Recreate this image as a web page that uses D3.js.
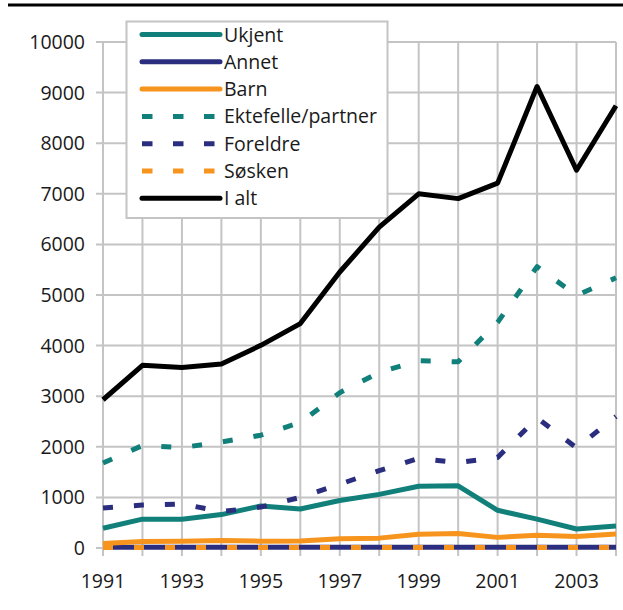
<!DOCTYPE html>
<html>
<head>
<meta charset="utf-8">
<script src="https://cdn.jsdelivr.net/npm/d3@7"></script>
<style>
  html, body { margin: 0; padding: 0; background: #fff; }
  svg { display: block; }
  text { font-family: "Open Sans", "Noto Sans", sans-serif; fill: #1a1a1a; }
</style>
</head>
<body>
<svg id="chart" width="623" height="610"></svg>
<script>
const years = [1991, 1992, 1993, 1994, 1995, 1996, 1997, 1998, 1999, 2000, 2001, 2002, 2003, 2004];
const xTickYears = [1991, 1993, 1995, 1997, 1999, 2001, 2003];
const yTicks = [0, 1000, 2000, 3000, 4000, 5000, 6000, 7000, 8000, 9000, 10000];

const ukjent    = [390, 570, 570, 660, 830, 770, 940, 1060, 1220, 1230, 745, 570, 375, 435];
const annet     = [15, 15, 15, 15, 15, 15, 15, 15, 15, 15, 15, 15, 15, 15];
const barn      = [90, 130, 135, 150, 135, 140, 185, 195, 270, 285, 210, 250, 225, 275];
const ektefelle = [1680, 2025, 1985, 2095, 2230, 2480, 3070, 3470, 3700, 3680, 4460, 5560, 4990, 5340];
const foreldre  = [790, 850, 870, 720, 810, 1000, 1260, 1530, 1770, 1690, 1790, 2570, 1980, 2600];
const sosken    = [10, 10, 10, 10, 10, 10, 10, 10, 10, 10, 10, 10, 10, 10];
const iAlt      = [2930, 3610, 3565, 3635, 4005, 4435, 5455, 6340, 7000, 6905, 7210, 9120, 7465, 8740];

const seriesNames = ["Ukjent", "Annet", "Barn", "Ektefelle/partner", "Foreldre", "Søsken", "I alt"];
const seriesValues = [ukjent, annet, barn, ektefelle, foreldre, sosken, iAlt];
const seriesColors = ["#11807a", "#2b2e7e", "#f7941d", "#11807a", "#2b2e7e", "#f7941d", "#000000"];
const seriesDashed = [false, false, false, true, true, true, false];

const svg = d3.select("#chart");
const x = d3.scaleLinear().domain([1991, 2004]).range([103, 616]);
const y = d3.scaleLinear().domain([0, 10000]).range([548, 42]);

// top rule
svg.append("line").attr("x1", 8).attr("x2", 623).attr("y1", 5).attr("y2", 5)
  .attr("stroke", "#000").attr("stroke-width", 3);

// grid
const grid = svg.append("g").attr("stroke", "#c4c4c4").attr("stroke-width", 2);
grid.selectAll("line.h").data(yTicks).join("line").attr("class", "h")
  .attr("x1", 96).attr("x2", x(2004)).attr("y1", d => y(d)).attr("y2", d => y(d));
grid.selectAll("line.v").data(years).join("line").attr("class", "v")
  .attr("x1", d => x(d)).attr("x2", d => x(d)).attr("y1", y(10000)).attr("y2", y(0) + 8);

// y labels
svg.append("g").selectAll("text").data(yTicks).join("text")
  .attr("x", 85).attr("y", d => y(d)).attr("dy", "0.36em")
  .attr("text-anchor", "end").attr("font-size", "19.5px")
  .text(d => d);

// x labels
svg.append("g").selectAll("text").data(xTickYears).join("text")
  .attr("x", d => x(d)).attr("y", 588)
  .attr("text-anchor", "middle").attr("font-size", "19.5px")
  .text(d => d);

// legend
const lg = svg.append("g");
lg.append("rect").attr("x", 126.5).attr("y", 21.5).attr("width", 261).attr("height", 196.5)
  .attr("fill", "#fff").attr("stroke", "#c4c4c4").attr("stroke-width", 2);
seriesNames.forEach((name, i) => {
  const ly = 34.5 + i * 27.3;
  lg.append("line").attr("x1", 142).attr("x2", 220).attr("y1", ly).attr("y2", ly)
    .attr("stroke", seriesColors[i]).attr("stroke-width", 5)
    .attr("stroke-linecap", seriesDashed[i] ? "butt" : "round")
    .attr("stroke-dasharray", seriesDashed[i] ? "10.5,20.5" : null);
  lg.append("text").attr("x", 224).attr("y", ly).attr("dy", "0.36em")
    .attr("font-size", "19.5px").text(name);
});

// lines
const line = d3.line().x((d, i) => x(years[i])).y(d => y(d));
seriesValues.forEach((vals, i) => {
  svg.append("path").datum(vals).attr("d", line)
    .attr("fill", "none").attr("stroke", seriesColors[i]).attr("stroke-width", 5)
    .attr("stroke-linejoin", "round")
    .attr("stroke-dasharray", seriesDashed[i] ? "10,21" : null);
});
</script>
</body>
</html>
